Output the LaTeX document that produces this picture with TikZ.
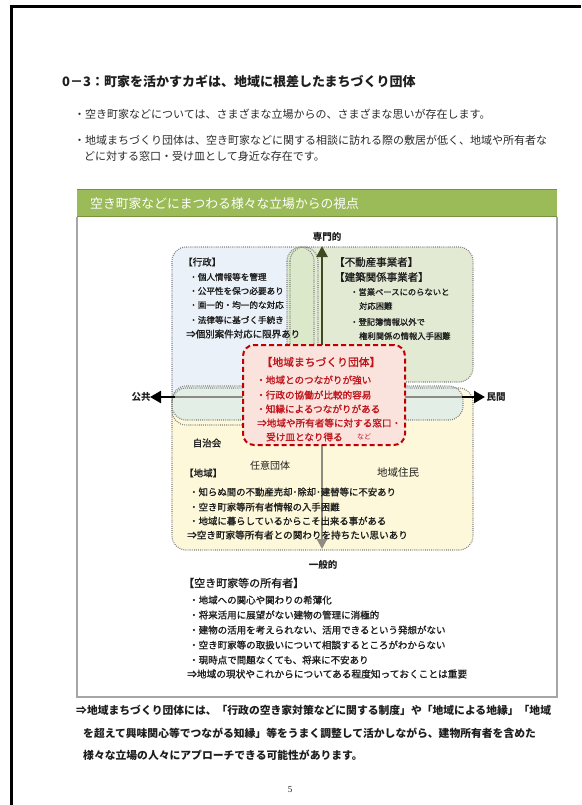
\documentclass[tikz,border=0pt]{standalone}
\usepackage{fontspec}
\setmainfont{Noto Sans CJK JP}
\newfontfamily\medfont{Noto Sans CJK JP}[FakeBold=1.2]
\newfontfamily\serifnum{Liberation Serif}
\usetikzlibrary{arrows.meta}
\newcommand\fsz[1]{\fontsize{#1}{#1}\selectfont}
\definecolor{ink}{HTML}{1E1E1E}
\definecolor{body}{HTML}{2A2A2A}
\definecolor{barG}{HTML}{9BBB59}
\definecolor{barD}{HTML}{76923C}
\definecolor{panelc}{HTML}{A6A6A6}
\definecolor{blueF}{HTML}{EAF1F8}
\definecolor{greenF}{HTML}{E2EAD3}
\definecolor{vpillF}{HTML}{DCE8CA}
\definecolor{yellowF}{HTML}{FDF8DA}
\definecolor{hpillF}{HTML}{E3EEE6}
\definecolor{redF}{HTML}{FBE3DD}
\definecolor{redD}{HTML}{C00000}
\definecolor{redT}{HTML}{C0141C}
\definecolor{dotc}{HTML}{7F7F7F}
\definecolor{arrowD}{HTML}{3E4B22}
\definecolor{arrowG}{HTML}{8C8C84}
\tikzset{
  tl/.style={inner sep=0pt, anchor=west, text=ink},
  tc/.style={inner sep=0pt, text=ink},
  zone/.style={draw=dotc, line width=1.1pt, dash pattern=on 0.9pt off 1.2pt, rounded corners=14pt},
  zonefill/.style={rounded corners=14pt},
  redbox/.style={draw=redD, fill=redF, line width=2pt, dash pattern=on 5pt off 3pt, rounded corners=11pt},
  rtl/.style={inner sep=0pt, anchor=west, text=redT},
}
\begin{document}
\begin{tikzpicture}[x=1pt,y=-1pt]
\useasboundingbox (0,0) rectangle (581,805);
\fill[white] (0,0) rectangle (581,805);
\draw[line width=3pt] (11.5,805) -- (11.5,6.5) -- (581,6.5);

% heading and intro
\node[tl, font=\fsz{13}\bfseries] (title) at (62,81) {0－3：町家を活かすカギは、地域に根差したまちづくり団体};
\node[tl, font=\fsz{11}, text=body] (b1) at (74,114) {・空き町家などについては、さまざまな立場からの、さまざまな思いが存在します。};
\node[tl, font=\fsz{11}, text=body] (b2) at (74,140) {・地域まちづくり団体は、空き町家などに関する相談に訪れる際の敷居が低く、地域や所有者な};
\node[tl, font=\fsz{11}, text=body] (b3) at (84,156) {どに対する窓口・受け皿として身近な存在です。};

% panel
\fill[barG] (77,189) rectangle (557,217);
\draw[barD, line width=1.2pt] (77,189.6) -- (557,189.6);
\draw[barD, line width=1.2pt] (77,216.4) -- (557,216.4);
\draw[panelc, line width=1.2pt] (77,217) -- (77,697) -- (557,697) -- (557,217);
\node[tl, font=\fsz{12.8}, text=white] (bar) at (90,204) {空き町家などにまつわる様々な立場からの視点};

% zones
\fill[blueF, zonefill] (172,247) rectangle (318,425);
\fill[greenF, zonefill] (290,247) rectangle (473,382);
\fill[yellowF, zonefill] (172,388) rectangle (473,550);
\fill[vpillF, zonefill] (287,247) rectangle (314,402);
\fill[hpillF, zonefill] (172,386) rectangle (463,420);
\draw[zone] (172,247) rectangle (318,425);
\draw[zone] (290,247) rectangle (473,382);
\draw[zone] (172,388) rectangle (473,550);
\draw[zone] (287,247) rectangle (314,402);
\draw[zone] (172,386) rectangle (463,420);

% axes
\coordinate (hL) at (150,397);
\coordinate (hLs) at (175,397);
\coordinate (hR) at (485,397);
\coordinate (hRs) at (462,397);
\coordinate (vT) at (322,246);
\coordinate (vTs) at (322,348);
\coordinate (vB) at (322,549);
\coordinate (vBs) at (322,442);
\draw[arrowG, line width=2pt] (hLs) -- (hRs);
\draw[black, line width=2.4pt, -{Triangle[length=11pt,width=12pt]}] (hLs) -- (hL);
\draw[black, line width=2.4pt, -{Triangle[length=11pt,width=12pt]}] (hRs) -- (hR);
\draw[arrowD, line width=2.6pt, -{Triangle[length=11pt,width=11pt]}] (vTs) -- (vT);
\draw[arrowG, line width=2.2pt, -{Triangle[length=10pt,width=10pt]}] (vBs) -- (vB);

\node[tc, font=\fsz{9.5}\bfseries] (senmon) at (327,237) {専門的};
\node[tc, font=\fsz{9.5}\bfseries] (ippan) at (323,565) {一般的};
\node[tc, font=\fsz{9.5}\bfseries] (kokyo) at (141,397) {公共};
\node[tc, font=\fsz{9.5}\bfseries] (minkan) at (496,397) {民間};

% gyosei
\node[tl, font=\medfont\fsz{9.5}] (g0) at (183,262) {【行政】};
\node[tl, font=\medfont\fsz{8.6}] (g1) at (189,277) {・個人情報等を管理};
\node[tl, font=\medfont\fsz{8.6}] (g2) at (189,291) {・公平性を保つ必要あり};
\node[tl, font=\medfont\fsz{8.6}] (g3) at (189,305) {・画一的・均一的な対応};
\node[tl, font=\medfont\fsz{8.6}] (g4) at (189,320) {・法律等に基づく手続き};
\node[tl, font=\medfont\fsz{9.5}] (g5) at (186,334) {⇒個別案件対応に限界あり};

% fudosan
\node[tl, font=\medfont\fsz{10.5}] (f0) at (334,262) {【不動産事業者】};
\node[tl, font=\medfont\fsz{10.5}] (f1) at (334,277) {【建築関係事業者】};
\node[tl, font=\medfont\fsz{8.3}] (f2) at (350,292) {・営業ベースにのらないと};
\node[tl, font=\medfont\fsz{8.3}] (f3) at (359,306) {対応困難};
\node[tl, font=\medfont\fsz{8.3}] (f4) at (350,322) {・登記簿情報以外で};
\node[tl, font=\medfont\fsz{8.3}] (f5) at (359,336) {権利関係の情報入手困難};

% chiiki
\node[tc, font=\medfont\fsz{9.5}] (jichi) at (207,443) {自治会};
\node[tc, font=\fsz{10}] (nini) at (270,466) {任意団体};
\node[tc, font=\fsz{10.5}] (jumin) at (398,472) {地域住民};
\node[tl, font=\medfont\fsz{9.5}] (c0) at (184,473) {【地域】};
\node[tl, font=\medfont\fsz{9.4}] (c1) at (189,492) {・知らぬ間の不動産売却･除却･建替等に不安あり};
\node[tl, font=\medfont\fsz{9.4}] (c2) at (189,507) {・空き町家等所有者情報の入手困難};
\node[tl, font=\medfont\fsz{9.4}] (c3) at (189,521) {・地域に暮らしているからこそ出来る事がある};
\node[tl, font=\medfont\fsz{9.6}] (c4) at (187,535) {⇒空き町家等所有者との関わりを持ちたい思いあり};

% machizukuri dantai
\node[redbox, minimum width=162pt, minimum height=100pt] (red) at (324,395) {};
\node[tc, font=\medfont\fsz{10.8}, text=redT] (r0) at (321,362) {【地域まちづくり団体】};
\node[rtl, font=\medfont\fsz{9.6}] (r1) at (256,380) {・地域とのつながりが強い};
\node[rtl, font=\medfont\fsz{9.6}] (r2) at (256,395) {・行政の協働が比較的容易};
\node[rtl, font=\medfont\fsz{9.6}] (r3) at (256,409) {・知縁によるつながりがある};
\node[rtl, font=\medfont\fsz{9.6}] (r4) at (257,423) {⇒地域や所有者等に対する窓口・};
\node[rtl, font=\medfont\fsz{9.6}] (r5) at (266,437) {受け皿となり得る};
\node[rtl, font=\fsz{7}] (r6) at (357,437) {など};

% owners
\node[tl, font=\medfont\fsz{11}] (o0) at (183,583) {【空き町家等の所有者】};
\node[tl, font=\medfont\fsz{9.5}] (o1) at (189,600) {・地域への関心や関わりの希薄化};
\node[tl, font=\medfont\fsz{9.5}] (o2) at (189,615) {・将来活用に展望がない建物の管理に消極的};
\node[tl, font=\medfont\fsz{9.5}] (o3) at (189,630) {・建物の活用を考えられない、活用できるという発想がない};
\node[tl, font=\medfont\fsz{9.5}] (o4) at (189,645) {・空き町家等の取扱いについて相談するところがわからない};
\node[tl, font=\medfont\fsz{9.5}] (o5) at (189,660) {・現時点で問題なくても、将来に不安あり};
\node[tl, font=\medfont\fsz{9.7}] (o6) at (187,674) {⇒地域の現状やこれからについてある程度知っておくことは重要};

% conclusion
\node[tl, font=\fsz{10.8}\bfseries] (k1) at (76,710) {⇒地域まちづくり団体には、「行政の空き家対策などに関する制度」や「地域による地縁」「地域};
\node[tl, font=\fsz{10.8}\bfseries] (k2) at (83,733) {を超えて興味関心等でつながる知縁」等をうまく調整して活かしながら、建物所有者を含めた};
\node[tl, font=\fsz{10.8}\bfseries] (k3) at (83,755) {様々な立場の人々にアプローチできる可能性があります。};

\node[tc, font=\serifnum\fsz{9}] (page) at (290,790) {5};
\end{tikzpicture}
\end{document}
